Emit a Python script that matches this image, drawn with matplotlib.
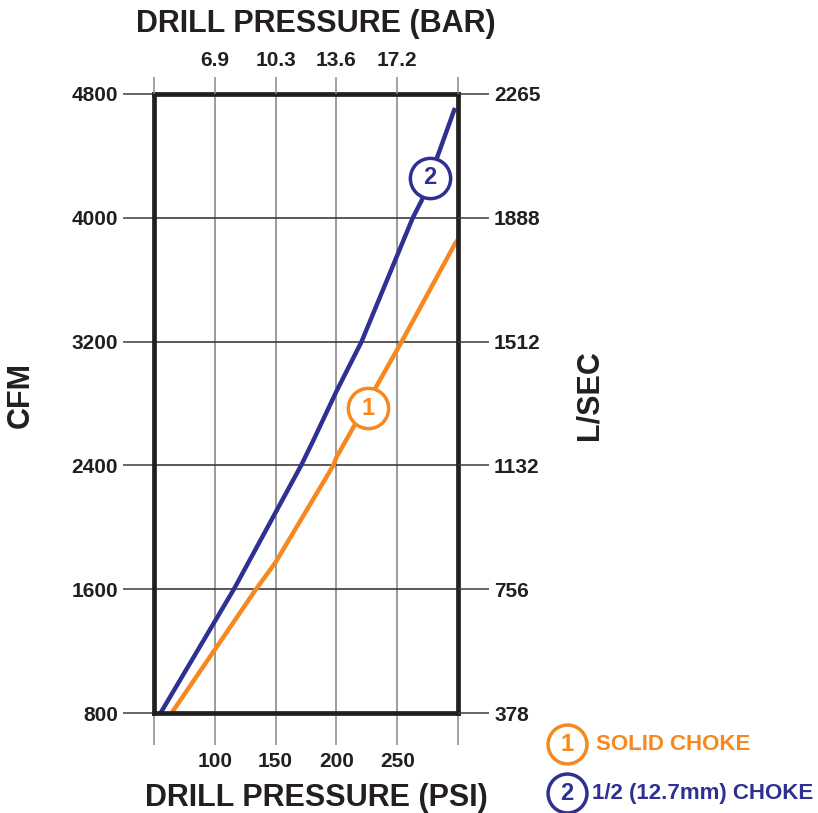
"""Drill pressure vs. air flow chart for two choke sizes."""

import matplotlib

matplotlib.use("Agg")
import matplotlib.pyplot as plt

ORANGE = "#F7881F"
BLUE = "#2E3192"
FRAME = "#231F20"

plt.rcParams["font.family"] = ["Liberation Sans", "DejaVu Sans"]
plt.rcParams["font.weight"] = "bold"

# axis ticks
PSI_TICKS = [50, 100, 150, 200, 250, 300]
PSI_LABELS = ["", "100", "150", "200", "250", ""]
BAR_LABELS = ["", "6.9", "10.3", "13.6", "17.2", ""]
CFM_TICKS = [800, 1600, 2400, 3200, 4000, 4800]
LSEC_LABELS = ["378", "756", "1132", "1512", "1888", "2265"]

# curve 1: solid choke
SOLID_PSI = [64.5, 133.9, 150, 197.5, 200, 253.7, 297.5, 300]
SOLID_CFM = [800, 1600, 1774, 2400, 2452, 3200, 3832, 3860]

# curve 2: 1/2 (12.7mm) choke
HALF_PSI = [55.4, 115.7, 171, 181, 200, 220.7, 262.8, 270, 297.5]
HALF_CFM = [800, 1600, 2400, 2561, 2878, 3200, 4000, 4110, 4710]

# numbered callouts on the curves
CALLOUT_PSI = [226, 277]
CALLOUT_CFM = [2768, 4258]

LEGEND_LABELS = ["SOLID CHOKE", "1/2 (12.7mm) CHOKE"]


def main():
    W, H = 818, 813
    fig = plt.figure(figsize=(W / 100, H / 100), dpi=100)
    ax = fig.add_axes([154 / W, 1 - 713 / H, 304 / W, 619 / H])
    ax.set_xlim(50, 300)
    ax.set_ylim(800, 4800)

    ax.plot(SOLID_PSI, SOLID_CFM, color=ORANGE, lw=3.2, solid_capstyle="butt", zorder=3)
    ax.plot(HALF_PSI, HALF_CFM, color=BLUE, lw=3.2, solid_capstyle="butt", zorder=3)

    for i, color in enumerate([ORANGE, BLUE]):
        ax.plot(CALLOUT_PSI[i], CALLOUT_CFM[i], "o", ms=29, mfc="white",
                mec=color, mew=2.5, zorder=4)
        ax.text(CALLOUT_PSI[i], CALLOUT_CFM[i], str(i + 1), color=color,
                fontsize=17, fontweight="bold", ha="center", va="center", zorder=5)

    ax.set_xticks(PSI_TICKS)
    ax.set_xticklabels(PSI_LABELS)
    ax.set_yticks(CFM_TICKS)
    ax.set_yticklabels([str(v) for v in CFM_TICKS])
    ax.xaxis.grid(True, color="#8a8a8a", lw=1.2, zorder=1)
    ax.yaxis.grid(True, color="#3c3c3c", lw=1.2, zorder=1)
    ax.set_axisbelow(True)
    ax.tick_params(axis="x", length=23, width=1.1, color="#8a8a8a", pad=5,
                   labelsize=15, labelcolor=FRAME)
    ax.tick_params(axis="y", length=22, width=1.1, color="#3c3c3c", pad=4,
                   labelsize=15, labelcolor=FRAME)
    for spine in ax.spines.values():
        spine.set_linewidth(3.4)
        spine.set_color(FRAME)
        spine.set_zorder(6)

    top = ax.twiny()
    top.set_xlim(ax.get_xlim())
    top.set_xticks(PSI_TICKS)
    top.set_xticklabels(BAR_LABELS)
    top.tick_params(axis="x", length=12, width=1.1, color="#8a8a8a", pad=5,
                    labelsize=15, labelcolor=FRAME)

    right = ax.twinx()
    right.set_ylim(ax.get_ylim())
    right.set_yticks(CFM_TICKS)
    right.set_yticklabels(LSEC_LABELS)
    right.tick_params(axis="y", length=22, width=1.1, color="#3c3c3c", pad=4,
                      labelsize=15, labelcolor=FRAME)
    for tw in (top, right):
        for spine in tw.spines.values():
            spine.set_visible(False)

    fig.text(316 / W, 1 - 24 / H, "DRILL PRESSURE (BAR)", fontsize=22,
             fontweight="bold", color=FRAME, ha="center", va="center")
    fig.text(316 / W, 1 - 798 / H, "DRILL PRESSURE (PSI)", fontsize=22,
             fontweight="bold", color=FRAME, ha="center", va="center")
    fig.text(21 / W, 1 - 395 / H, "CFM", fontsize=22, fontweight="bold",
             color=FRAME, rotation=90, ha="center", va="center")
    fig.text(590 / W, 1 - 395 / H, "L/SEC", fontsize=22, fontweight="bold",
             color=FRAME, rotation=90, ha="center", va="center")

    # legend in figure pixel space
    leg = fig.add_axes([0, 0, 1, 1], zorder=10)
    leg.set_xlim(0, W)
    leg.set_ylim(H, 0)
    leg.axis("off")
    for i, color in enumerate([ORANGE, BLUE]):
        y = 744 + 49 * i
        leg.plot(567, y, "o", ms=28, mfc="white", mec=color, mew=2.5)
        leg.text(567, y, str(i + 1), color=color, fontsize=17,
                 fontweight="bold", ha="center", va="center")
        leg.text(596 - 4 * i, y, LEGEND_LABELS[i], color=color, fontsize=16,
                 fontweight="bold", ha="left", va="center")

    fig.savefig("out.png", dpi=100)


if __name__ == "__main__":
    main()
